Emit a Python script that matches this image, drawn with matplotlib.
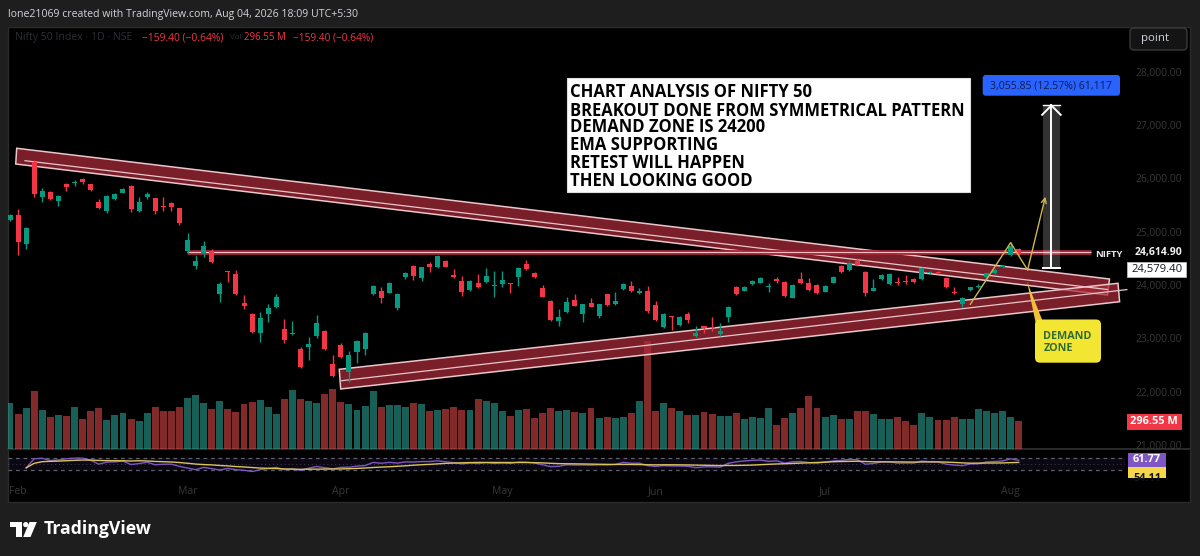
import numpy as np
import pandas as pd
import matplotlib
matplotlib.use("Agg")
import matplotlib.pyplot as plt
from matplotlib.patches import Rectangle, FancyBboxPatch, Polygon, Circle
from matplotlib.ticker import FuncFormatter

# ---------------- data ----------------
opens = [25219, 25313, 24769, 26313, 25644, 25738, 25581, 25888, 25907, 25982,
         25888, 25550, 25394, 25607, 25732, 25857, 25388, 25657, 25625, 25488,
         25544, 25438, 24638, 24357, 24594, 24638, 23832, 24263, 24207, 23663,
         23450, 23094, 23463, 23594, 23169, 23088, 22800, 22844, 23038, 23144,
         22525, 22875, 22363, 22750, 22800, 23825, 23888, 23857, 23563, 24144,
         24363, 24138, 24388, 24344, 24457, 24188, 24082, 23907, 24044, 24063,
         23988, 24019, 24032, 24157, 24388, 24219, 23950, 23707, 23332, 23500,
         23719, 23457, 23669, 23419, 23825, 23644, 23919, 23982, 23857, 23888,
         23625, 23207, 23419, 23250, 23457, 23050, 23232, 23213, 23075, 23394,
         23969, 23894, 24013, 24044, 23957, 24107, 24063, 23763, 24107, 24044,
         24000, 23875, 24044, 24357, 24282, 24450, 24250, 23894, 24107, 24013,
         24044, 24063, 24113, 24107, 24219, 24250, 24125, 23875, 23638, 23907,
         23957, 24157, 24219, 24344, 24563, 24669]
highs = [25340, 25425, 25080, 26344, 25813, 25760, 25690, 25919, 25969, 26000,
         25900, 25607, 25690, 25720, 25815, 25870, 25657, 25750, 25640, 25644,
         25560, 25450, 24969, 24563, 24825, 24675, 24063, 24270, 24282, 23807,
         23470, 23488, 23638, 23838, 23363, 23325, 22830, 23032, 23444, 23160,
         22688, 22919, 22763, 22970, 23125, 24000, 23969, 24063, 23844, 24240,
         24380, 24345, 24438, 24570, 24470, 24294, 24175, 24100, 24200, 24313,
         24263, 24263, 24044, 24330, 24469, 24240, 24000, 23720, 23544, 23782,
         23825, 23650, 23750, 23650, 23840, 23875, 24030, 24075, 23950, 23982,
         23707, 23470, 23425, 23410, 23500, 23232, 23240, 23394, 23282, 23610,
         23982, 23982, 24090, 24150, 24030, 24144, 24075, 24020, 24238, 24125,
         24013, 24000, 24170, 24370, 24457, 24500, 24270, 24107, 24200, 24230,
         24157, 24188, 24130, 24345, 24260, 24270, 24140, 23969, 23770, 23970,
         24013, 24230, 24300, 24380, 24800, 24690]
lows = [25200, 24563, 24669, 25644, 25550, 25590, 25488, 25769, 25863, 25894,
        25760, 25430, 25357, 25590, 25720, 25375, 25375, 25613, 25332, 25394,
        25388, 25125, 24594, 24294, 24519, 24410, 23675, 24063, 23813, 23544,
        23094, 22938, 23313, 23563, 22919, 23063, 22450, 22594, 23000, 22780,
        22282, 22625, 22188, 22532, 22688, 23813, 23657, 23850, 23532, 24120,
        24094, 24082, 24238, 24320, 24330, 24125, 23800, 23890, 23940, 24032,
        23782, 23969, 23857, 23988, 24280, 24125, 23770, 23325, 23232, 23480,
        23600, 23313, 23580, 23375, 23610, 23630, 23900, 23870, 23840, 23469,
        23330, 23190, 23157, 23230, 23282, 23032, 23107, 23144, 23050, 23300,
        23810, 23880, 24000, 24030, 23875, 24044, 23780, 23750, 24020, 23890,
        23830, 23860, 24030, 24225, 24270, 24360, 23800, 23880, 24090, 24000,
        24000, 24013, 24030, 24090, 24200, 24200, 23950, 23830, 23594, 23890,
        23940, 24140, 24200, 24330, 24540, 24560]
closes = [25313, 24800, 25063, 25706, 25769, 25613, 25675, 25844, 25926, 25926,
          25782, 25444, 25669, 25707, 25800, 25425, 25550, 25707, 25394, 25457,
          25469, 25157, 24844, 24457, 24738, 24425, 24013, 24238, 23832, 23613,
          23113, 23388, 23563, 23769, 22969, 23107, 22469, 22888, 23282, 22794,
          22300, 22657, 22688, 22950, 23094, 23988, 23750, 24032, 23825, 24219,
          24175, 24332, 24344, 24550, 24344, 24144, 23863, 24082, 23957, 24169,
          24000, 24094, 24019, 24313, 24294, 24144, 23782, 23344, 23407, 23688,
          23613, 23638, 23594, 23638, 23625, 23700, 24013, 23888, 23894, 23513,
          23344, 23457, 23394, 23394, 23344, 23107, 23188, 23200, 23144, 23594,
          23825, 23969, 24075, 24138, 23988, 24075, 23800, 24000, 24032, 23907,
          23844, 23982, 24157, 24238, 24407, 24375, 23844, 23938, 24188, 24207,
          24032, 24050, 24050, 24325, 24250, 24219, 23969, 23844, 23750, 23957,
          23969, 24219, 24282, 24363, 24738.8, 24579.4]
volumes_m = [492, 375, 439, 617, 414, 339, 368, 353, 446, 325,
             410, 439, 314, 368, 389, 325, 303, 389, 446, 410,
             403, 446, 546, 582, 492, 425, 510, 432, 396, 485,
             503, 525, 446, 375, 532, 635, 532, 517, 489, 589,
             640, 503, 482, 418, 460, 617, 453, 467, 475, 446,
             496, 482, 403, 418, 432, 453, 418, 418, 539, 517,
             489, 410, 353, 418, 432, 332, 382, 439, 403, 418,
             396, 382, 439, 332, 339, 332, 346, 382, 517, 1152,
             410, 496, 439, 403, 360, 368, 396, 375, 353, 353,
             389, 325, 346, 332, 439, 253, 332, 389, 439, 567,
             439, 346, 368, 325, 325, 403, 410, 375, 318, 318,
             346, 303, 260, 382, 346, 310, 310, 339, 325, 318,
             425, 410, 389, 403, 339, 296.55]

month_labels = ["Feb", "Mar", "Apr", "May", "Jun", "Jul", "Aug"]
month_bar_index = [1, 22, 41, 61, 80, 101, 124]
price_ticks = [21000, 22000, 23000, 24000, 25000, 26000, 27000, 28000]

hline_price = 24614.90
hline_span = [21.9, 134.0]
last_close_label = "24,579.40"
hline_label = "24,614.90"
volume_label = "296.55 M"
rsi_last, rsi_ma_last = 61.77, 54.11

range_low, range_high = 24311.0, 27366.85
range_span = [128.0, 130.1]
range_text = "3,055.85 (12.57%) 61,117"

upper_band = [(0.83, 26564), (136.25, 24113), (136.0, 23813), (0.71, 26269)]
upper_mid = [(1.86, 26331), (136.0, 23916)]
lower_band = [(40.8, 22420), (137.3, 24033), (137.5, 23687), (40.98, 22051)]
lower_mid = [(41.1, 22206), (138.4, 23914)]
projection_path = [(119.0, 23639), (124.0, 24794), (126.1, 24282), (128.3, 25656)]

note_lines = ["CHART ANALYSIS OF NIFTY 50",
              "BREAKOUT DONE FROM SYMMETRICAL PATTERN",
              "DEMAND ZONE IS 24200",
              "EMA SUPPORTING",
              "RETEST WILL HAPPEN",
              "THEN LOOKING GOOD"]
header_text = "lone21069 created with TradingView.com, Aug 04, 2026 18:09 UTC+5:30"

# ---------------- style ----------------
GREEN, RED = "#089981", "#f23645"
VOL_G, VOL_R = (44/255, 175/255, 160/255, 0.55), (238/255, 76/255, 76/255, 0.55)
BAND_FILL = (170/255, 42/255, 58/255, 0.72)
BAND_EDGE = "#e9c6c9"
FONT = ["Open Sans", "DejaVu Sans"]
DIM = "#383838"

W, H = 1200, 556
fig = plt.figure(figsize=(W / 100, H / 100), dpi=100, facecolor="#1e1e1e")


def frac(l, t, r, b):
    return [l / W, 1 - b / H, (r - l) / W, (b - t) / H]


bg = fig.add_axes([0, 0, 1, 1], zorder=0)
bg.set_xlim(0, W); bg.set_ylim(H, 0); bg.axis("off")
bg.add_patch(Rectangle((8, 27), 1182, 475, fc="#000000", ec="#2b2b2b", lw=1))
bg.plot([8, 1190], [449, 449], color="#2b2b2b", lw=1.4)

PL, PR, PT, PB = 8, 1125, 27, 449
vax = fig.add_axes(frac(PL, PT, PR, PB), zorder=1)
ax = fig.add_axes(frac(PL, PT, PR, PB), zorder=2)
rax = fig.add_axes(frac(PL, 449, PR, 478.3), zorder=2)
for a in (vax, ax, rax):
    a.patch.set_visible(False)
    for s in a.spines.values():
        s.set_visible(False)

n = len(closes)
idx = np.arange(n)
o = np.array(opens, float); c = np.array(closes, float)
hi = np.array(highs, float); lo = np.array(lows, float)
XL = (-0.248, 138.17)
for a in (vax, ax, rax):
    a.set_xlim(*XL)

# volume
vcol = [VOL_G if cc >= oo else VOL_R for oo, cc in zip(o, c)]
vax.bar(idx, volumes_m, width=0.86, color=vcol, lw=0)
vax.set_ylim(0, 4518)
vax.set_xticks([]); vax.set_yticks([])

# price axes
ax.set_ylim(20925.6, 28838)
ax.set_xticks([])
ax.yaxis.tick_right()
ax.set_yticks(price_ticks)
ax.yaxis.set_major_formatter(FuncFormatter(lambda v, p: f"{v:,.2f}"))
ax.tick_params(axis="y", length=0, pad=7.5, labelsize=7.4, labelcolor=DIM)
for t in ax.get_yticklabels():
    t.set_fontfamily(FONT)

# bands
for band, mid in ((upper_band, upper_mid), (lower_band, lower_mid)):
    ax.add_patch(Polygon(band, closed=True, fc=BAND_FILL, ec=BAND_EDGE, lw=1.1,
                         zorder=2, clip_on=False))
    ax.plot([p[0] for p in mid], [p[1] for p in mid], color=BAND_EDGE, lw=0.9,
            zorder=2.5, clip_on=False)

# horizontal line
ax.hlines(hline_price, *hline_span, color="#a52636", lw=3.4, zorder=3)
ax.hlines(hline_price, *hline_span, color="#f3bec5", lw=0.8, zorder=3.1)

# candles
ccol = np.where(c >= o, GREEN, RED)
ax.vlines(idx, lo, hi, colors=ccol, lw=1, zorder=4)
body_b = np.minimum(o, c)
body_h = np.maximum(np.abs(c - o), 18)
ax.bar(idx, body_h, bottom=body_b, width=0.62, color=ccol, lw=0, zorder=5)

# price range tool
rx0, rx1 = range_span
rxc = (rx0 + rx1) / 2
ax.add_patch(Rectangle((rx0, range_low), rx1 - rx0, range_high - range_low,
                       fc=(1, 1, 1, 0.2), ec="none", zorder=6))
ax.plot([rxc, rxc], [range_low, range_high], color="white", lw=1.4, zorder=6.5)
ax.plot([rx0, rx1], [range_low, range_low], color="white", lw=1.4, zorder=6.5)
ax.plot([rx0, rx1], [range_high, range_high], color="white", lw=1.0, zorder=6.5)
ax.plot([rx0 - 0.1, rxc, rx1 + 0.1], [range_high - 175, range_high, range_high - 175],
        color="white", lw=1.4, zorder=6.5)

# projection path
YEL = "#cdb84e"
px = [p[0] for p in projection_path]; py = [p[1] for p in projection_path]
ax.plot(px[:3], py[:3], color=YEL, lw=1, zorder=7)
ax.annotate("", xy=projection_path[3], xytext=projection_path[2],
            arrowprops=dict(arrowstyle="->", color=YEL, lw=1, shrinkA=0, shrinkB=0,
                            mutation_scale=9), zorder=7)

# RSI pane
cl = pd.Series(c)
d = cl.diff()
g = d.clip(lower=0).ewm(alpha=1 / 14, min_periods=2).mean()
l_ = (-d.clip(upper=0)).ewm(alpha=1 / 14, min_periods=2).mean()
rsi = 100 - 100 / (1 + g / l_)
rsi_ma = rsi.rolling(14, min_periods=1).mean()
rax.set_ylim(0, 100)
rax.axhspan(30, 70, color="#7e57c2", alpha=0.1, lw=0)
rax.axhline(70, color="#5d606b", lw=0.9, ls=(0, (3, 3)))
rax.axhline(30, color="#5d606b", lw=0.9, ls=(0, (3, 3)))
rax.axhline(50, color="#5d606b", lw=0.7, ls=(0, (1, 3)), alpha=0.6)
rax.plot(idx, rsi, color="#7e57c2", lw=1)
rax.plot(idx, rsi_ma, color="#d9c45a", lw=1)
rax.set_yticks([])
rax.set_xticks(month_bar_index)
rax.set_xticklabels(month_labels)
rax.tick_params(axis="x", length=0, pad=5.5, labelsize=7.6, labelcolor=DIM)
for t in rax.get_xticklabels():
    t.set_fontfamily(FONT)

# ---------------- overlay (labels, texts) ----------------
ov = fig.add_axes([0, 0, 1, 1], zorder=5)
ov.set_xlim(0, W); ov.set_ylim(H, 0); ov.axis("off")
ov.patch.set_visible(False)
renderer = fig.canvas.get_renderer()


def fit_text(x, y, s, width, size0=10.0, **kw):
    t = ov.text(x, y, s, fontsize=size0, **kw)
    bb = t.get_window_extent(renderer=renderer)
    t.set_fontsize(size0 * width / bb.width)
    return t


# header
fit_text(8, 14, header_text, 348, color="#d1d4dc", va="center", family=FONT)
# legend
fit_text(15, 37.5, "Nifty 50 Index · 1D · NSE", 118, color="#2c2f36", va="center", family=FONT)
fit_text(141.7, 37.5, "\u2212159.40 (\u22120.64%)", 81, color=RED, va="center", family=FONT)
fit_text(230, 37.5, "Vol", 11.5, color="#2c2f36", va="center", family=FONT)
fit_text(244.3, 37.5, "296.55 M", 41.7, color=RED, va="center", family=FONT)
fit_text(292.7, 37.5, "\u2212159.40 (\u22120.64%)", 80.6, color=RED, va="center", family=FONT)

# point button
ov.add_patch(FancyBboxPatch((1130, 28), 57, 22, boxstyle="round,pad=0,rounding_size=4",
                            fc="#141414", ec="#3a3a3a", lw=1))
fit_text(1141, 39, "point", 28, color="#d1d4dc", va="center", family=FONT)

# analysis note
ov.add_patch(Rectangle((566.7, 78.3), 403.3, 113.4, fc="white", ec="#dddddd", lw=0.8))
tb = fit_text(570, 115.7, note_lines[1], 395, color="black", va="baseline",
              family=FONT, weight="bold")
fs = tb.get_fontsize()
for k, line in enumerate(note_lines):
    if k == 1:
        continue
    ov.text(570, 96.9 + 17.8 * k, line, fontsize=fs, color="black", va="baseline",
            family=FONT, weight="bold")

# range label
ov.add_patch(FancyBboxPatch((982.7, 75), 137.3, 20.7, boxstyle="round,pad=0,rounding_size=3",
                            fc="#2962ff", ec="none"))
fit_text(990, 85.6, range_text, 122, color="#0f1d4a", va="center", family=FONT)

# NIFTY line labels
fit_text(1095, 254.3, "NIFTY", 27, color="#e8e8e8", va="center", family=FONT, weight="bold")
fit_text(1135, 253, hline_label, 48, color="#f0f0f0", va="center", family=FONT, weight="bold")
ov.add_patch(Rectangle((1127, 261.7), 59, 15, fc="white", ec="#bbbbbb", lw=0.6))
fit_text(1131, 269.2, last_close_label, 51, color="#131722", va="center", family=FONT)

# volume label
ov.add_patch(Rectangle((1127, 414), 55, 15.5, fc=RED, ec="none"))
fit_text(1130, 421.8, volume_label, 48, color="white", va="center", family=FONT, weight="bold")

# RSI labels (lower one partly hidden by the pane edge)
clip = Rectangle((1100, 449.5), 100, 28.8, transform=ov.transData)
ov.add_patch(Rectangle((1128, 452.5), 38, 14.5, fc="#7e57c2", ec="none"))
fit_text(1133, 460, f"{rsi_last:.2f}", 28, color="white", va="center", family=FONT, weight="bold")
p2 = Rectangle((1128, 467), 38, 14, fc="#f7d74a", ec="none")
ov.add_patch(p2); p2.set_clip_path(clip)
t2 = fit_text(1133, 478.5, f"{rsi_ma_last:.2f}", 28, color="#131722", va="center",
              family=FONT, weight="bold")
t2.set_clip_path(clip)

# demand zone callout
ov.add_patch(Polygon([(1027, 281.5), (1035.5, 322), (1043, 322)], closed=True,
                     fc="#f0bf3a", ec="none"))
ov.add_patch(FancyBboxPatch((1035, 319.5), 66, 43.2, boxstyle="round,pad=0,rounding_size=5",
                            fc="#f2e632", ec="none"))
td = fit_text(1043.3, 339.2, "DEMAND", 48.3, color="#2e6b33", va="baseline",
              family=FONT, weight="bold")
ov.text(1043.3, 351.2, "ZONE", fontsize=td.get_fontsize(), color="#2e6b33", va="baseline",
        family=FONT, weight="bold")

# TradingView logo
ov.add_patch(Rectangle((10, 522), 11.5, 5, fc="white", ec="none"))
ov.add_patch(Rectangle((15.5, 522), 6, 15, fc="white", ec="none"))
ov.add_patch(Circle((25.7, 524.6), 2.6, fc="white", ec="none"))
ov.add_patch(Polygon([(29.5, 522), (36.8, 522), (30.5, 537), (23.2, 537)], closed=True,
                     fc="white", ec="none"))
fit_text(44, 528.5, "TradingView", 108, color="white", va="center", family=FONT, weight="bold")

fig.savefig("out.png", dpi=100, facecolor=fig.get_facecolor())
